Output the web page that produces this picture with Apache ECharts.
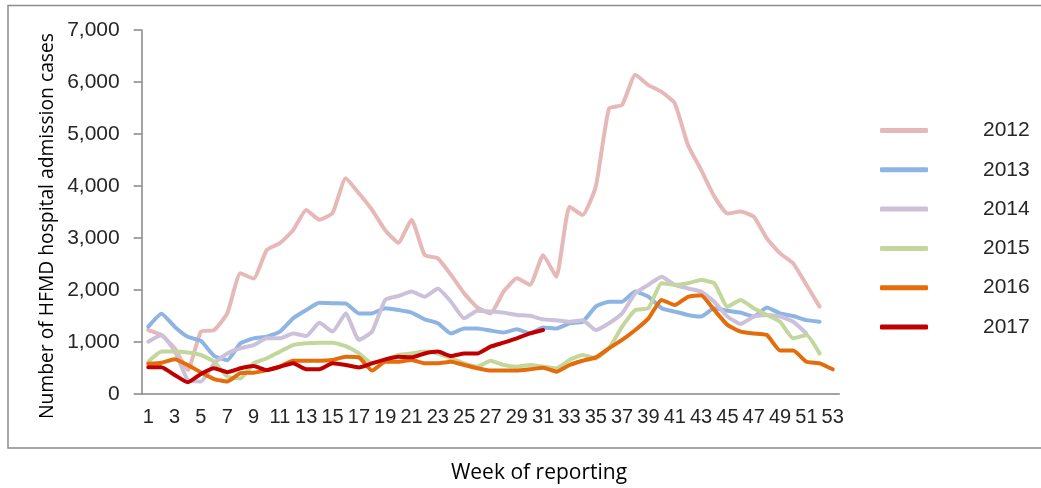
<!DOCTYPE html>
<html>
<head>
<meta charset="utf-8">
<script src="https://cdn.jsdelivr.net/npm/echarts@6/dist/echarts.min.js"></script>
<style>
  html, body { margin: 0; padding: 0; background: #fff; }
  #main { width: 1041px; height: 488px; }
</style>
</head>
<body>
<div id="main"></div>
<script>
// weeks 1..53
var weeks = [];
for (var i = 1; i <= 53; i++) weeks.push(String(i));

var years = ['2012', '2013', '2014', '2015', '2016', '2017'];
var colors = ['#e6b9b8', '#8eb4e3', '#ccc1da', '#c3d69b', '#e46c0a', '#c00000'];

var y2012 = [1230, 1135, 880, 460, 1200, 1230, 1550, 2320, 2220, 2770, 2900, 3150, 3540, 3350, 3480, 4150, 3860, 3540, 3150, 2910,
  3350, 2670, 2610, 2290, 1935, 1665, 1550, 1970, 2225, 2100, 2670, 2255, 3600, 3440, 3990, 5490, 5560, 6140, 5940, 5810,
  5590, 4790, 4310, 3800, 3470, 3510, 3410, 2990, 2705, 2510, 2100, 1680];
var y2013 = [1295, 1545, 1295, 1100, 1020, 735, 650, 975, 1070, 1100, 1200, 1455, 1615, 1755, 1745, 1740, 1550, 1550, 1650, 1615,
  1565, 1435, 1360, 1165, 1260, 1260, 1220, 1185, 1245, 1165, 1280, 1260, 1360, 1390, 1680, 1775, 1775, 1970, 1870, 1650,
  1585, 1520, 1490, 1650, 1600, 1565, 1490, 1665, 1550, 1500, 1420, 1390];
var y2014 = [1005, 1135, 830, 270, 240, 590, 780, 880, 940, 1070, 1070, 1165, 1115, 1370, 1200, 1550, 1040, 1200, 1810, 1885,
  1970, 1870, 2030, 1775, 1455, 1600, 1585, 1565, 1520, 1505, 1435, 1420, 1390, 1420, 1230, 1360, 1550, 1935, 2100, 2255,
  2100, 2030, 1970, 1775, 1490, 1345, 1490, 1520, 1490, 1390, 1165];
var y2015 = [620, 815, 815, 800, 750, 620, 335, 300, 590, 685, 815, 940, 975, 987, 987, 920, 780, 590, 655, 750,
  780, 815, 780, 685, 590, 525, 640, 558, 525, 558, 525, 495, 655, 750, 685, 880, 1295, 1615, 1650, 2130,
  2100, 2130, 2190, 2130, 1680, 1810, 1650, 1520, 1390, 1070, 1135, 780];
var y2016 = [580, 600, 667, 558, 415, 285, 240, 400, 410, 460, 525, 640, 640, 640, 655, 718, 705, 450, 620, 620,
  655, 590, 590, 620, 558, 495, 450, 450, 450, 475, 505, 430, 558, 640, 705, 880, 1040, 1230, 1455, 1810,
  1710, 1870, 1900, 1615, 1330, 1200, 1165, 1135, 835, 835, 620, 590, 475];
var y2017 = [515, 515, 365, 225, 385, 494, 420, 495, 540, 460, 525, 590, 475, 475, 590, 558, 510, 590, 667, 718,
  705, 780, 815, 730, 780, 780, 910, 987, 1070, 1165, 1230];

var yTicks = [0, 1000, 2000, 3000, 4000, 5000, 6000, 7000];

var seriesData = [y2012, y2013, y2014, y2015, y2016, y2017];

var chart = echarts.init(document.getElementById('main'));

var series = [];
for (var s = 0; s < years.length; s++) {
  series.push({
    name: years[s],
    type: 'line',
    data: seriesData[s],
    symbol: 'none',
    smooth: 0.15,
    lineStyle: { width: 4, color: colors[s], cap: 'round', join: 'round' },
    itemStyle: { color: colors[s] }
  });
}

var option = {
  animation: false,
  color: colors,
  grid: { left: 141.7, right: 201.7, top: 30, bottom: 94 },
  legend: {
    orient: 'vertical',
    left: 875,
    top: 115,
    itemWidth: 48,
    itemHeight: 5,
    itemGap: 18.3,
    icon: 'roundRect',
    data: years,
    textStyle: {
      fontFamily: 'Liberation Sans, Arial, sans-serif',
      fontSize: 21,
      color: '#262626',
      lineHeight: 20,
      padding: [0, 0, 0, 50]
    }
  },
  xAxis: {
    type: 'category',
    data: weeks,
    boundaryGap: true,
    axisLine: { lineStyle: { color: '#868686', width: 1.5 } },
    axisTick: { interval: 0, length: 6, lineStyle: { color: '#868686', width: 1.5 } },
    axisLabel: {
      interval: 1,
      margin: 13,
      fontFamily: 'Liberation Sans Narrow, Arial Narrow, Liberation Sans, sans-serif',
      fontSize: 20,
      color: '#262626'
    }
  },
  yAxis: {
    type: 'value',
    min: yTicks[0],
    max: yTicks[yTicks.length - 1],
    interval: 1000,
    splitLine: { show: false },
    axisLine: { show: true, lineStyle: { color: '#868686', width: 1.5 } },
    axisTick: { show: true, length: 8, lineStyle: { color: '#868686', width: 1.5 } },
    axisLabel: {
      margin: 22,
      fontFamily: 'Liberation Sans, Arial, sans-serif',
      fontSize: 21,
      color: '#262626',
      formatter: function (v) { return v.toLocaleString('en-US'); }
    }
  },
  graphic: [
    {
      type: 'rect',
      shape: { x: 8, y: 5.5, width: 1100, height: 442.5 },
      style: { fill: 'none', stroke: '#8c8c8c', lineWidth: 1.5 },
      silent: true
    },
    {
      type: 'text',
      x: 48,
      y: 226,
      rotation: Math.PI / 2,
      style: {
        text: 'Number of HFMD hospital admission cases',
        fontFamily: 'Open Sans, Noto Sans, sans-serif',
        fontSize: 19.3,
        fill: '#000',
        align: 'center',
        verticalAlign: 'middle'
      }
    },
    {
      type: 'text',
      x: 539,
      y: 473,
      style: {
        text: 'Week of reporting',
        fontFamily: 'Open Sans, Noto Sans, sans-serif',
        fontSize: 21,
        fill: '#000',
        align: 'center',
        verticalAlign: 'middle'
      }
    }
  ],
  series: series
};

chart.setOption(option);
</script>
</body>
</html>
